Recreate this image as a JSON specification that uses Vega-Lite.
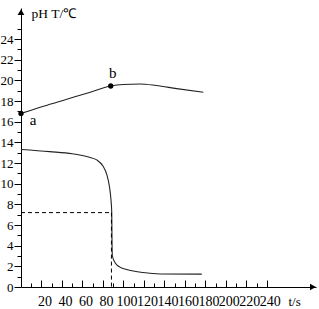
{
  "$schema": "https://vega.github.io/schema/vega-lite/v6.json",
  "width": 295,
  "height": 279,
  "autosize": {"type": "none"},
  "padding": {"left": 21, "top": 8, "right": 3, "bottom": 22},
  "config": {
    "view": {"stroke": null},
    "font": "Liberation Serif",
    "axis": {"grid": false, "domainColor": "#000", "tickColor": "#000", "labelColor": "#000", "titleColor": "#000", "labelFont": "Liberation Serif", "titleFont": "Liberation Serif", "labelFontSize": 13, "titleFontWeight": "normal", "domainWidth": 1, "tickWidth": 1}
  },
  "datasets": {
    "temp": [
      {"t": 0, "v": 16.8}, {"t": 22, "v": 17.5}, {"t": 44, "v": 18.15}, {"t": 66, "v": 18.8},
      {"t": 87.6, "v": 19.45}, {"t": 100, "v": 19.6}, {"t": 116, "v": 19.65}, {"t": 132, "v": 19.5},
      {"t": 152, "v": 19.2}, {"t": 178, "v": 18.85}
    ],
    "ph": [
      {"t": 0, "v": 13.3}, {"t": 28, "v": 13.1}, {"t": 50, "v": 12.9}, {"t": 65, "v": 12.6},
      {"t": 74, "v": 12.3}, {"t": 80, "v": 11.7}, {"t": 84, "v": 10.8}, {"t": 86.5, "v": 9.6},
      {"t": 87.8, "v": 8.5}, {"t": 88.6, "v": 7.2}, {"t": 88.8, "v": 5}, {"t": 89.2, "v": 3},
      {"t": 92.2, "v": 2.3}, {"t": 97, "v": 1.9}, {"t": 103, "v": 1.7}, {"t": 119, "v": 1.4},
      {"t": 136, "v": 1.26}, {"t": 176.5, "v": 1.25}
    ],
    "dash": [
      {"t1": 0, "t2": 88.3, "v1": 7.2, "v2": 7.2},
      {"t1": 88.3, "t2": 88.3, "v1": 7.2, "v2": 0}
    ],
    "pts": [
      {"t": 0, "v": 16.8, "label": "a"},
      {"t": 87.6, "v": 19.45, "label": "b"}
    ],
    "arrows": [
      {"t": 285, "v": 0, "shape": "triangle-right"},
      {"t": 0, "v": 26.6, "shape": "triangle-up"}
    ]
  },
  "resolve": {"axis": {"x": "independent", "y": "independent"}},
  "layer": [
    {
      "data": {"name": "temp"},
      "mark": {"type": "line", "interpolate": "monotone", "color": "#222", "strokeWidth": 1.1},
      "encoding": {
        "x": {"field": "t", "type": "quantitative", "scale": {"domain": [0, 288], "nice": false, "zero": false},
          "axis": {"orient": "bottom", "values": [20,40,60,80,100,120,140,160,180,200,220,240], "ticks": false, "labelFontSize": 14, "labelPadding": 7, "labelOffset": 3, "labelFlush": false, "labelOverlap": false,
            "title": "t/s", "titleFontSize": 13, "titleAnchor": "start", "titleAlign": "left", "titleBaseline": "alphabetic", "titleX": 267, "titleY": 18}},
        "y": {"field": "v", "type": "quantitative", "scale": {"domain": [0, 27], "nice": false, "zero": true},
          "axis": {"orient": "left", "values": [0,2,4,6,8,10,12,14,16,18,20,22,24], "tickSize": 7, "labelPadding": 1, "labelFlush": false, "labelOverlap": false,
            "title": "pH T/℃", "titleFontSize": 13.5, "titleAngle": 0, "titleAlign": "left", "titleBaseline": "alphabetic", "titleAnchor": "start", "titleX": 10, "titleY": 9}}
      }
    },
    {
      "data": {"name": "ph"},
      "mark": {"type": "line", "interpolate": "monotone", "color": "#222", "strokeWidth": 1.1},
      "encoding": {
        "x": {"field": "t", "type": "quantitative",
          "axis": {"orient": "bottom", "values": [20,40,60,80,100,120,140,160,180,200,220,240], "tickSize": -7, "labels": false, "domain": false, "title": null}},
        "y": {"field": "v", "type": "quantitative",
          "axis": {"orient": "left", "values": [1,3,5,7,9,11,13,15,17,19,21,23,25], "tickSize": 4, "labels": false, "domain": false, "title": null}}
      }
    },
    {
      "data": {"name": "dash"},
      "mark": {"type": "rule", "color": "#000", "strokeWidth": 1, "strokeDash": [4, 3]},
      "encoding": {
        "x": {"field": "t1", "type": "quantitative",
          "axis": {"orient": "bottom", "values": [10,30,50,70,90,110,130,150,170,190,210,230], "tickSize": -4, "labels": false, "domain": false, "title": null}},
        "x2": {"field": "t2"},
        "y": {"field": "v1", "type": "quantitative", "axis": null},
        "y2": {"field": "v2"}
      }
    },
    {
      "data": {"name": "pts"},
      "mark": {"type": "point", "filled": true, "color": "#000", "size": 28, "opacity": 1},
      "encoding": {
        "x": {"field": "t", "type": "quantitative", "axis": null},
        "y": {"field": "v", "type": "quantitative", "axis": null}
      }
    },
    {
      "data": {"name": "pts"},
      "transform": [{"filter": "datum.label == 'a'"}],
      "mark": {"type": "text", "font": "Liberation Serif", "fontSize": 15, "color": "#000", "dx": 12, "dy": 7, "align": "center", "baseline": "middle"},
      "encoding": {
        "x": {"field": "t", "type": "quantitative", "axis": null},
        "y": {"field": "v", "type": "quantitative", "axis": null},
        "text": {"field": "label"}
      }
    },
    {
      "data": {"name": "pts"},
      "transform": [{"filter": "datum.label == 'b'"}],
      "mark": {"type": "text", "font": "Liberation Serif", "fontSize": 15, "color": "#000", "dx": 2, "dy": -13, "align": "center", "baseline": "middle"},
      "encoding": {
        "x": {"field": "t", "type": "quantitative", "axis": null},
        "y": {"field": "v", "type": "quantitative", "axis": null},
        "text": {"field": "label"}
      }
    },
    {
      "data": {"name": "arrows"},
      "mark": {"type": "point", "filled": true, "color": "#000", "size": 45, "opacity": 1},
      "encoding": {
        "x": {"field": "t", "type": "quantitative", "axis": null},
        "y": {"field": "v", "type": "quantitative", "axis": null},
        "shape": {"field": "shape", "type": "nominal", "scale": null}
      }
    }
  ]
}
